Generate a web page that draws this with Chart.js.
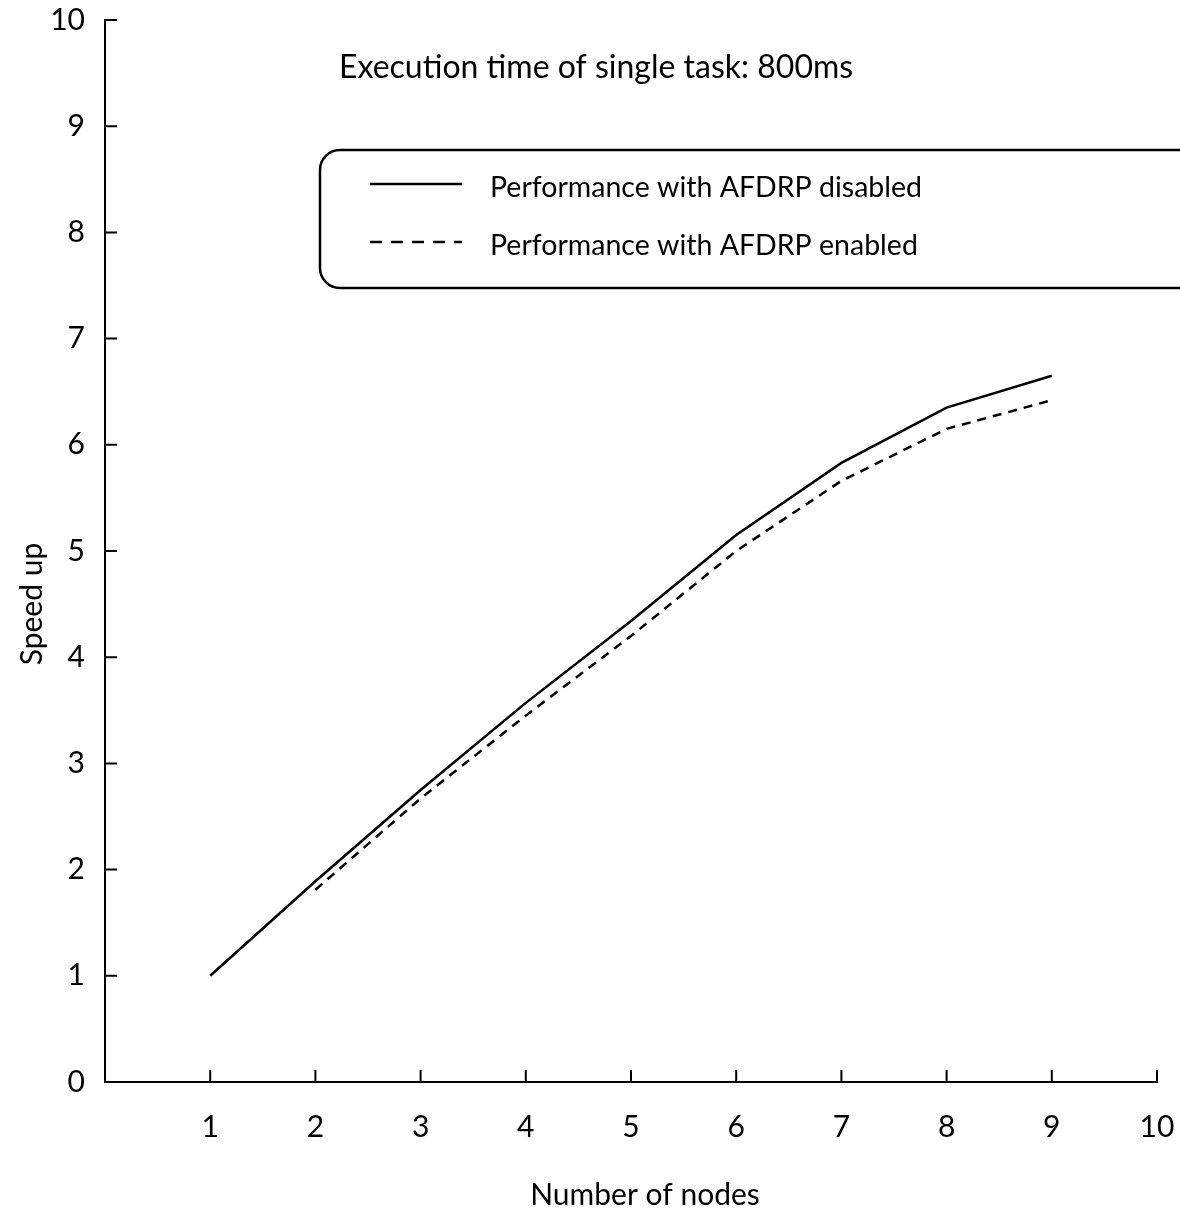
<!DOCTYPE html>
<html lang="en">
<head>
    <meta charset="UTF-8">
    <title>Speed up vs number of nodes</title>
    <style>
        html, body {
            margin: 0;
            padding: 0;
            background: #fff;
        }
        #wrap {
            width: 1180px;
            height: 1228px;
        }
    </style>
</head>
<body>
    <div id="wrap"><canvas id="myChart"></canvas></div>

    <script src="https://cdn.jsdelivr.net/npm/chart.js"></script>
    <script>
        // values
        const nodes = [1, 2, 3, 4, 5, 6, 7, 8, 9];
        const speedupDisabled = [1.0, 1.89, 2.75, 3.57, 4.34, 5.15, 5.83, 6.35, 6.65];
        const speedupEnabled = [null, 1.81, 2.67, 3.45, 4.20, 5.00, 5.66, 6.15, 6.42];

        const xTicks = [1, 2, 3, 4, 5, 6, 7, 8, 9, 10];
        const yTicks = [0, 1, 2, 3, 4, 5, 6, 7, 8, 9, 10];

        const labelDisabled = 'Performance with AFDRP disabled';
        const labelEnabled = 'Performance with AFDRP enabled';
        const noteText = 'Execution time of single task: 800ms';
        const xTitle = 'Number of nodes';
        const yTitle = 'Speed up';

        const FONT = 'Lato, "Noto Sans", sans-serif';

        function toPoints(ys) {
            return nodes.map((n, i) => ({ x: n, y: ys[i] })).filter(p => p.y !== null);
        }

        // scales ask for room for their end labels; we place the area by hand instead
        function noScalePadding(scale) {
            scale.paddingTop = 0;
            scale.paddingBottom = 0;
            scale.paddingLeft = 0;
            scale.paddingRight = 0;
        }

        // inward tick marks, axis titles, the note and the boxed legend
        const decorations = {
            id: 'decorations',
            afterDraw(chart) {
                const ctx = chart.ctx;
                const xs = chart.scales.x;
                const ys = chart.scales.y;
                const area = chart.chartArea;

                ctx.save();
                ctx.strokeStyle = '#000';
                ctx.lineWidth = 2;
                ctx.beginPath();
                xTicks.forEach(v => {
                    const px = xs.getPixelForValue(v);
                    ctx.moveTo(px, area.bottom);
                    ctx.lineTo(px, area.bottom - 12);
                });
                yTicks.filter(v => v > 0).forEach(v => {
                    const py = ys.getPixelForValue(v);
                    ctx.moveTo(area.left, py);
                    ctx.lineTo(area.left + 12, py);
                });
                ctx.stroke();

                ctx.fillStyle = '#000';

                // axis titles
                ctx.font = '30px ' + FONT;
                ctx.textAlign = 'center';
                ctx.textBaseline = 'middle';
                ctx.fillText(xTitle, 645, 1195);
                ctx.save();
                ctx.translate(32, 604);
                ctx.rotate(-Math.PI / 2);
                ctx.fillText(yTitle, 0, 0);
                ctx.restore();

                // note text
                ctx.font = '32px ' + FONT;
                ctx.textAlign = 'left';
                ctx.textBaseline = 'alphabetic';
                ctx.fillText(noteText, 339, 78);

                // legend box, runs off the right edge like the original
                const box = { left: 320, top: 150, bottom: 288, right: 1200, r: 20 };
                ctx.lineWidth = 2.5;
                ctx.beginPath();
                ctx.roundRect(box.left, box.top, box.right - box.left, box.bottom - box.top, box.r);
                ctx.stroke();

                const rows = [184, 242];
                ctx.textBaseline = 'middle';
                chart.data.datasets.forEach((ds, i) => {
                    ctx.save();
                    ctx.lineWidth = 2.5;
                    ctx.setLineDash(ds.borderDash && ds.borderDash.length ? [12, 9] : []);
                    ctx.beginPath();
                    ctx.moveTo(370, rows[i]);
                    ctx.lineTo(462, rows[i]);
                    ctx.stroke();
                    ctx.restore();
                    ctx.font = '28.5px ' + FONT;
                    ctx.fillText(ds.label, 490, rows[i] + 4);
                });
                ctx.restore();
            }
        };

        const ctx = document.getElementById('myChart').getContext('2d');
        const myChart = new Chart(ctx, {
            type: 'line',
            data: {
                datasets: [
                    {
                        label: labelDisabled,
                        data: toPoints(speedupDisabled),
                        borderColor: '#000',
                        borderWidth: 2.5,
                        pointRadius: 0,
                        tension: 0,
                        fill: false
                    },
                    {
                        label: labelEnabled,
                        data: toPoints(speedupEnabled),
                        borderColor: '#000',
                        borderWidth: 2.5,
                        borderDash: [9, 7],
                        pointRadius: 0,
                        tension: 0,
                        fill: false
                    }
                ]
            },
            options: {
                responsive: true,
                maintainAspectRatio: false,
                animation: false,
                layout: {
                    padding: { top: 20, right: 23, left: 0, bottom: 0 }
                },
                plugins: {
                    legend: { display: false },
                    tooltip: { enabled: false }
                },
                scales: {
                    x: {
                        type: 'linear',
                        min: 0,
                        max: 10,
                        afterBuildTicks: scale => {
                            scale.ticks = xTicks.map(v => ({ value: v }));
                        },
                        afterFit: scale => {
                            scale.height = 146;
                            noScalePadding(scale);
                        },
                        grid: { display: false, drawTicks: false },
                        border: { display: true, color: '#000', width: 2 },
                        ticks: {
                            color: '#000',
                            padding: 27,
                            maxRotation: 0,
                            autoSkip: false,
                            font: { family: FONT, size: 30 }
                        }
                    },
                    y: {
                        type: 'linear',
                        min: 0,
                        max: 10,
                        afterBuildTicks: scale => {
                            scale.ticks = yTicks.map(v => ({ value: v }));
                        },
                        afterFit: scale => {
                            scale.width = 105;
                            noScalePadding(scale);
                        },
                        grid: { display: false, drawTicks: false },
                        border: { display: true, color: '#000', width: 2 },
                        ticks: {
                            color: '#000',
                            padding: 20,
                            autoSkip: false,
                            font: { family: FONT, size: 30 }
                        }
                    }
                }
            },
            plugins: [decorations]
        });
    </script>
</body>
</html>
